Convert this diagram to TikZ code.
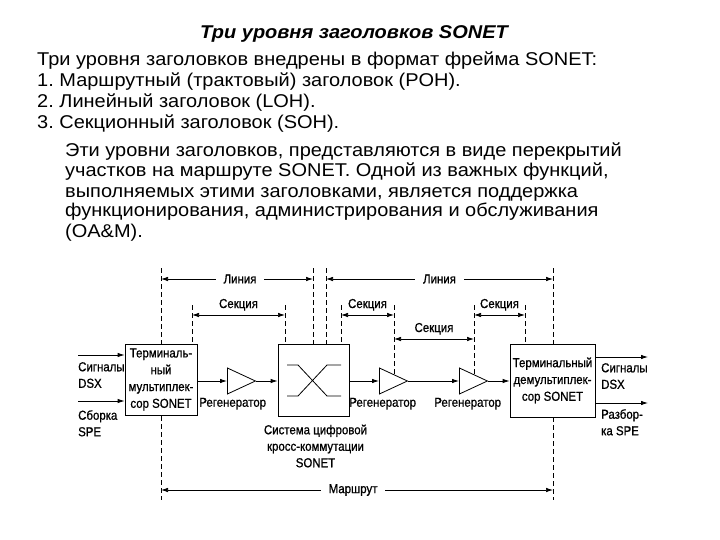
\documentclass[tikz,border=0pt]{standalone}
\usepackage{fontspec}
\setmainfont{Liberation Sans}
\newfontfamily\bodyfont[FakeStretch=1.08]{Liberation Sans}
\newfontfamily\diagfont[FakeStretch=0.88,FakeBold=0.8]{Liberation Sans}
\usepackage{tikz}
\usetikzlibrary{arrows.meta,positioning,shapes.geometric}
\frenchspacing
\tikzset{
  head text/.style={font=\bodyfont\fontsize{18.5}{22}\selectfont\bfseries\itshape,inner sep=0pt,anchor=base},
  body text/.style={font=\bodyfont\fontsize{18.5}{22}\selectfont,inner sep=0pt,anchor=base west},
  diagram label/.style={font=\diagfont\fontsize{13}{16.5}\selectfont,inner sep=1pt},
  block/.style={draw,line width=.8pt,inner sep=1pt,align=center,font=\diagfont\fontsize{13}{16.8}\selectfont},
  regen/.style={draw,line width=.8pt,isosceles triangle,isosceles triangle stretches,
    minimum width=26pt,minimum height=28pt,inner sep=0pt},
  signal line/.style={line width=.8pt,-{Latex[length=7pt,width=4.5pt]}},
  dim line/.style={line width=.7pt,{Latex[length=7pt,width=4.5pt]}-{Latex[length=7pt,width=4.5pt]}},
  guide line/.style={line width=.7pt,dash pattern=on 5pt off 3pt},
  gap label/.style={diagram label,fill=white,inner xsep=8pt}
}

\begin{document}
\begin{tikzpicture}[x=1pt,y=-1pt]
  \useasboundingbox (0,0) rectangle (720,540);

  % text above the diagram
  \node[head text] (head) at (354,39) {Три уровня заголовков SONET};
  \foreach \y/\t [count=\i] in {66/{Три уровня заголовков внедрены в формат фрейма SONET:},
      87/{1. Маршрутный (трактовый) заголовок (POH).},
      108/{2. Линейный заголовок (LOH).},
      129/{3. Секционный заголовок (SOH).}}
    \node[body text] (list\i) at (37,\y) {\t};
  \foreach \y/\t [count=\i] in {157/{Эти уровни заголовков, представляются в виде перекрытий},
      177/{участков на маршруте SONET. Одной из важных функций,},
      197/{выполняемых этими заголовками, является поддержка},
      217/{функционирования, администрирования и обслуживания},
      237/{(OA\&M).}}
    \node[body text] (para\i) at (65,\y) {\t};

  % equipment
  \node[block,minimum width=72pt,minimum height=71pt] (mux) at (161,379.5)
    {Терминаль-\\ный\\мультиплек-\\сор SONET};
  \node[block,minimum width=71pt,minimum height=72pt] (dcs) at (313.5,380) {};
  \node[block,minimum width=85pt,minimum height=73pt] (demux) at (552.5,380.5)
    {Терминальный\\демультиплек-\\сор SONET};
  \node[regen,anchor=west] (r1) at (227,381) {};
  \node[regen,anchor=west] (r2) at (379,381) {};
  \node[regen,anchor=west] (r3) at (459,381) {};

  \begin{scope}[shift={(dcs.center)},line width=.8pt]
    \draw (-26.5,-15) -- (-15.5,-15) -- (13.5,16) -- (27.5,16);
    \draw (-26.5,16) -- (-15.5,16) -- (13.5,-15) -- (27.5,-15);
  \end{scope}

  \node[diagram label,below=6pt of r1,xshift=-3pt] (r1l) {Регенератор};
  \node[diagram label,below=6pt of r2,xshift=-5pt] (r2l) {Регенератор};
  \node[diagram label,below=6pt of r3] (r3l) {Регенератор};
  \node[diagram label,align=center,below=7pt of dcs,xshift=2pt] (dcsl)
    {Система цифровой\\кросс-коммутации\\SONET};

  % signal path
  \draw[signal line] (mux.east |- r1.west) -- (r1.west);
  \draw[signal line] (r1.east) -- (dcs.west |- r1.east);
  \draw[signal line] (dcs.east |- r2.west) -- (r2.west);
  \draw[signal line] (r2.east) -- (r3.west);
  \draw[signal line] (r3.east) -- (demux.west |- r3.east);

  \coordinate (inA) at (78,355);
  \coordinate (inB) at (78,401);
  \coordinate (outA) at (648,357);
  \coordinate (outB) at (648,403);
  \draw[signal line] (inA) -- (inA -| mux.west);
  \draw[signal line] (inB) -- (inB -| mux.west);
  \draw[signal line] (demux.east |- outA) -- (outA);
  \draw[signal line] (demux.east |- outB) -- (outB);
  \node[diagram label,align=left,anchor=north west] (inAl) at (77,361) {Сигналы\\DSX};
  \node[diagram label,align=left,anchor=north west] (inBl) at (77,409) {Сборка\\SPE};
  \node[diagram label,align=left,anchor=north west] (outAl) at (600,362) {Сигналы\\DSX};
  \node[diagram label,align=left,anchor=north west] (outBl) at (600,408) {Разбор-\\ка SPE};

  % guide lines
  \foreach \x/\ya/\yb in {161/268/344, 161/416/500, 192/305/344, 285/305/344,
      313/268/344, 326/268/344, 341/305/344, 394/305/374, 474/305/375,
      525/305/344, 553/268/344, 553/417/500}
    \draw[guide line] (\x,\ya) -- (\x,\yb);

  % spans
  \coordinate (ln1a) at (161,279); \coordinate (ln1b) at (313,279);
  \coordinate (ln2a) at (326,279); \coordinate (ln2b) at (553,279);
  \coordinate (sc1a) at (192,315); \coordinate (sc1b) at (285,315);
  \coordinate (sc2a) at (341,315); \coordinate (sc2b) at (394,315);
  \coordinate (sc3a) at (394,339); \coordinate (sc3b) at (474,339);
  \coordinate (sc4a) at (474,315); \coordinate (sc4b) at (525,315);
  \coordinate (rt1) at (161,490);  \coordinate (rt2) at (553,490);

  \draw[dim line] (ln1a) -- node[gap label,pos=.52] {Линия} (ln1b);
  \draw[dim line] (ln2a) -- node[gap label,pos=.5] {Линия} (ln2b);
  \draw[dim line] (sc1a) -- node[diagram label,above=3pt] {Секция} (sc1b);
  \draw[dim line] (sc2a) -- node[diagram label,above=3pt] {Секция} (sc2b);
  \draw[dim line] (sc3a) -- node[diagram label,above=3pt] {Секция} (sc3b);
  \draw[dim line] (sc4a) -- node[diagram label,above=3pt] {Секция} (sc4b);
  \draw[dim line] (rt1) -- node[gap label,pos=.49] {Маршрут} (rt2);
\end{tikzpicture}
\end{document}
